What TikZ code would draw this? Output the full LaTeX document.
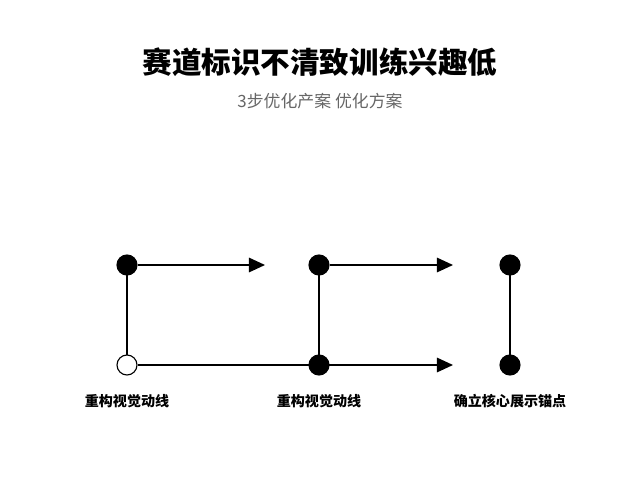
\documentclass[tikz,border=0pt]{standalone}
\usepackage{fontspec}
\newfontfamily\cjk{Noto Sans CJK SC}
\usetikzlibrary{arrows.meta}
\tikzset{
  dot/.style={circle, fill=black, draw=black, line width=0.8pt, minimum size=0.5cm, inner sep=0pt},
  hole/.style={dot, fill=white},
  flow/.style={line width=1.2pt, -{Triangle[length=0.4cm, width=0.36cm]}},
  link/.style={line width=1.2pt},
  lbl/.style={font=\cjk\fontsize{10}{12}\selectfont\bfseries}
}
\begin{document}
\begin{tikzpicture}[x=0.025cm, y=-0.025cm]
	\useasboundingbox (0,0) rectangle (640,480);
	\node (title) at (320,62) {\cjk\fontsize{21}{25}\selectfont\bfseries 赛道标识不清致训练兴趣低};
	\node (sub) at (320,101) {\cjk\fontsize{12}{14}\selectfont\color{black!60} 3步优化产案\ 优化方案};
	% points
	\coordinate (e1) at (265,265);
	\coordinate (e2) at (453,265);
	\coordinate (e3) at (453,365);
	\draw[link] (127,265) -- (127,365);
	\draw[link] (319,265) -- (319,365);
	\draw[link] (510,265) -- (510,365);
	\node[dot] (a1) at (127,265) {};
	\node[hole] (a2) at (127,365) {};
	\node[dot] (b1) at (319,265) {};
	\node[dot] (b2) at (319,365) {};
	\node[dot] (c1) at (510,265) {};
	\node[dot] (c2) at (510,365) {};
	\draw[flow] (a1) -- (e1);
	\draw[flow] (b1) -- (e2);
	\draw[flow] (a2) -- (e3);
	\node[lbl] (la) at (127,401) {重构视觉动线};
	\node[lbl] (lb) at (319,401) {重构视觉动线};
	\node[lbl] (lc) at (510,401) {确立核心展示锚点};
\end{tikzpicture}
\end{document}
